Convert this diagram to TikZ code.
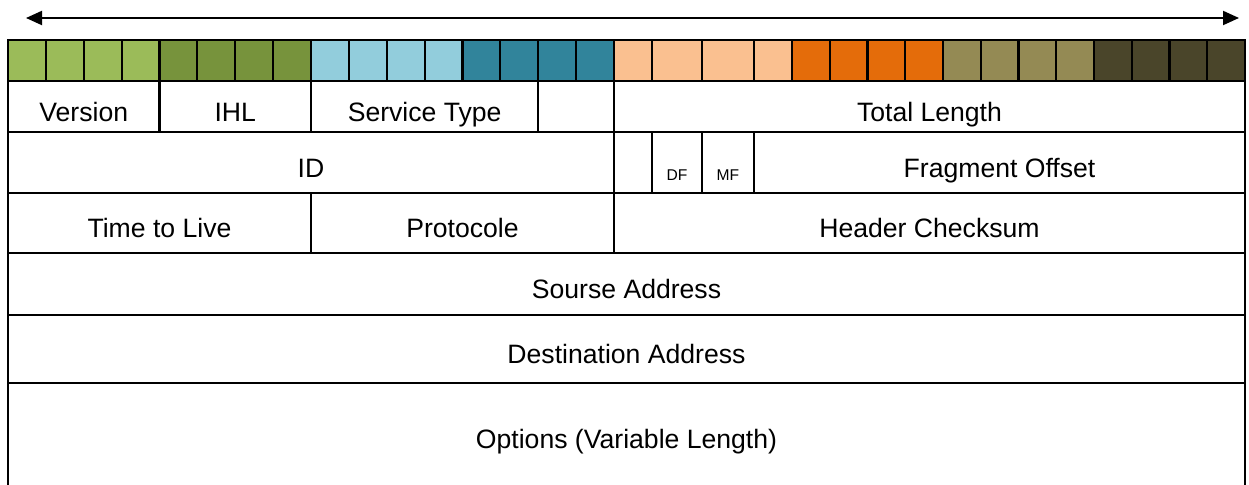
\documentclass[tikz,border=0pt]{standalone}
\usepackage{fontspec}
\setmainfont{Liberation Sans}
\usetikzlibrary{arrows.meta}
\usetikzlibrary{fit}

\definecolor{vergreen}{HTML}{9BBB59}
\definecolor{ihlgreen}{HTML}{77933C}
\definecolor{tosblue}{HTML}{92CDDC}
\definecolor{tosteal}{HTML}{31849B}
\definecolor{lenpeach}{HTML}{FAC090}
\definecolor{lenorange}{HTML}{E46C0A}
\definecolor{lenolive}{HTML}{948A54}
\definecolor{lendark}{HTML}{4A452A}

\tikzset{
  bit/.style={line width=1.1pt},
  field/.style={draw, line width=1.1pt, inner sep=0pt, outer sep=0pt},
  lbl/.style={anchor=base, inner sep=0pt, yshift=-7.5pt, font=\fontsize{13.3}{16}\selectfont},
  flaglbl/.style={lbl, yshift=-1.3pt, font=\fontsize{7.8}{9}\selectfont},
}

\begin{document}
\begin{tikzpicture}[x=0.5pt, y=-0.5pt]
    \useasboundingbox (0, 0) rectangle (1249, 485);

    % width arrow
    \coordinate (wleft) at (26, 18);
    \coordinate (wright) at (1239, 18);
    \draw[{Triangle[length=8pt, width=7pt]}-{Triangle[length=8pt, width=7pt]}, line width=1pt] (wleft)--(wright);

    % bit cells
    \foreach \x/\w/\c in {8/37.875/vergreen, 159.5/37.875/ihlgreen, 311/37.875/tosblue, 462.5/37.875/tosteal,
        792/37.75/lenorange, 943/37.75/lenolive, 1094/37.75/lendark}
      \foreach \k in {0, ..., 3}
        \filldraw[bit, fill=\c] (\x+\k*\w, 40) rectangle (\x+\k*\w+\w, 81);
    \foreach \a/\b in {614/652, 652/702, 702/754, 754/792}
      \filldraw[bit, fill=lenpeach] (\a, 40) rectangle (\b, 81);

    % first word
    \node[field, fit={(8, 81) (159.5, 132)}] (version) {};
    \node[field, fit={(159.5, 81) (311, 132)}] (ihl) {};
    \node[field, fit={(311, 81) (538.3, 132)}] (tos) {};
    \node[field, fit={(538.3, 81) (614, 132)}] (tosrest) {};
    \node[field, fit={(614, 81) (1245, 132)}] (totlen) {};

    % second word
    \node[field, fit={(8, 132) (614, 193)}] (id) {};
    \node[field, fit={(614, 132) (652, 193)}] (rsv) {};
    \node[field, fit={(652, 132) (702, 193)}] (df) {};
    \node[field, fit={(702, 132) (754, 193)}] (mf) {};
    \node[field, fit={(754, 132) (1245, 193)}] (fragoff) {};

    % third word
    \node[field, fit={(8, 193) (311, 253)}] (ttl) {};
    \node[field, fit={(311, 193) (614, 253)}] (proto) {};
    \node[field, fit={(614, 193) (1245, 253)}] (chksum) {};

    % addresses
    \node[field, fit={(8, 253) (1245, 315)}] (src) {};
    \node[field, fit={(8, 315) (1245, 383)}] (dst) {};

    \node[field, draw=none, fit={(8, 383) (1245, 485)}] (opts) {};
    \draw[line width=1.1pt] (opts.north west)--(opts.south west);
    \draw[line width=1.1pt] (opts.north east)--(opts.south east);

    % field names
    \node[lbl] (versiontxt) at (version.center) {Version};
    \node[lbl] (ihltxt) at (ihl.center) {IHL};
    \node[lbl] (tostxt) at (tos.center) {Service Type};
    \node[lbl] (totlentxt) at (totlen.center) {Total Length};
    \node[lbl] (idtxt) at (id.center) {ID};
    \node[flaglbl] (dftxt) at (df.center) {DF};
    \node[flaglbl] (mftxt) at (mf.center) {MF};
    \node[lbl] (fragofftxt) at (fragoff.center) {Fragment Offset};
    \node[lbl] (ttltxt) at (ttl.center) {Time to Live};
    \node[lbl] (prototxt) at (proto.center) {Protocole};
    \node[lbl] (chksumtxt) at (chksum.center) {Header Checksum};
    \node[lbl] (srctxt) at (src.center) {Sourse Address};
    \node[lbl] (dsttxt) at (dst.center) {Destination Address};
    \node[lbl] (optstxt) at (opts.center) {Options (Variable Length)};
\end{tikzpicture}
\end{document}
